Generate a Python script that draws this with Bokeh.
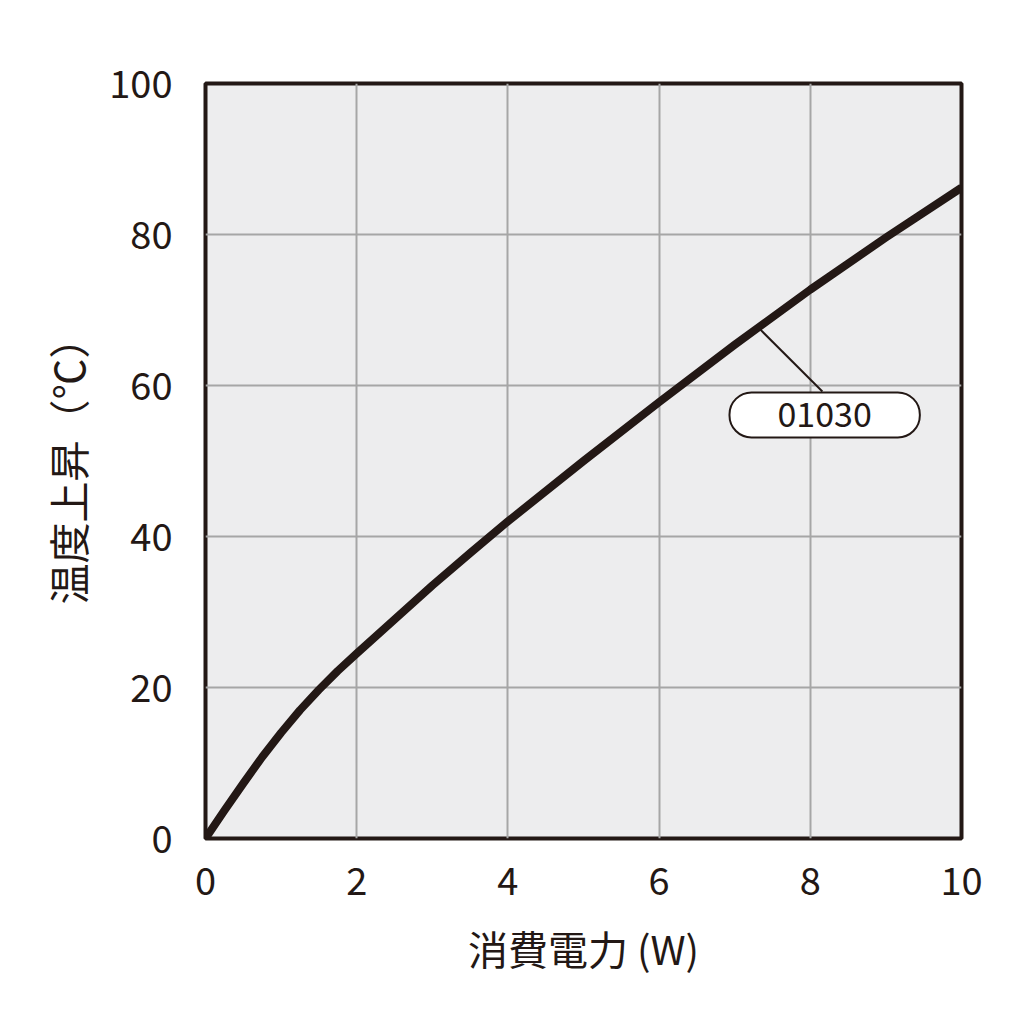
from bokeh.plotting import figure
from bokeh.models import Range1d, Label, FixedTicker
from bokeh.embed import file_html
from bokeh.resources import INLINE

# ---- data ----
power_w = [0, 0.25, 0.5, 0.75, 1.0, 1.25, 1.5, 1.75, 2.0, 2.5, 3.0, 3.5,
           4.0, 5.0, 6.0, 7.0, 8.0, 9.0, 10.0]
temp_rise = [0, 3.7, 7.3, 10.8, 14.0, 17.0, 19.7, 22.2, 24.5, 29.0, 33.5, 37.8,
             42.0, 50.0, 57.8, 65.4, 72.7, 79.6, 86.2]

x_ticks = [0, 2, 4, 6, 8, 10]
y_ticks = [0, 20, 40, 60, 80, 100]

series_name = "01030"
leader_from = (7.34, 67.4)   # point on the curve
leader_to = (8.16, 59.2)     # top of the name box
name_pos = (8.19, 56.1)

x_title = "消費電力 (W)"
y_title = "温度上昇（℃）"

INK = "#231815"
FONT = "Noto Sans CJK JP"

p = figure(width=1016, height=1016, output_backend="svg", toolbar_location=None,
           x_range=Range1d(0, 10), y_range=Range1d(0, 100),
           min_border_left=205, min_border_right=55, min_border_top=83, min_border_bottom=178)

p.background_fill_color = "#ededee"
p.border_fill_color = "white"
p.outline_line_color = INK
p.outline_line_width = 4

p.xaxis.ticker = FixedTicker(ticks=x_ticks)
p.yaxis.ticker = FixedTicker(ticks=y_ticks)
p.xgrid.ticker = FixedTicker(ticks=x_ticks)
p.ygrid.ticker = FixedTicker(ticks=y_ticks)
for g in (p.xgrid, p.ygrid):
    g.grid_line_color = "#a6a6a6"
    g.grid_line_width = 2

for ax in (p.xaxis, p.yaxis):
    ax.axis_line_color = None
    ax.major_tick_line_color = None
    ax.minor_tick_line_color = None
    ax.major_label_text_font = FONT
    ax.major_label_text_font_size = "38px"
    ax.major_label_text_color = INK
    ax.axis_label_text_font = FONT
    ax.axis_label_text_font_size = "40px"
    ax.axis_label_text_font_style = "normal"
    ax.axis_label_text_color = INK

p.xaxis.axis_label = x_title
p.yaxis.axis_label = y_title
p.yaxis.axis_label_text_font_size = "41px"
p.xaxis.major_label_standoff = 22
p.yaxis.major_label_standoff = 27
p.xaxis.axis_label_standoff = 21
p.yaxis.axis_label_standoff = 9

p.line(power_w, temp_rise, line_color=INK, line_width=8, line_join="round")

p.line([leader_from[0], leader_to[0]], [leader_from[1], leader_to[1]],
       line_color=INK, line_width=2)

p.add_layout(Label(x=name_pos[0], y=name_pos[1], text=series_name,
                   text_align="center", text_baseline="middle",
                   text_font=FONT, text_font_size="34px", text_color=INK,
                   background_fill_color="white", border_line_color=INK,
                   border_line_width=2, border_radius=22,
                   padding=(48, 48, 10, 10)))

open("out.html", "w").write(file_html(p, INLINE))
